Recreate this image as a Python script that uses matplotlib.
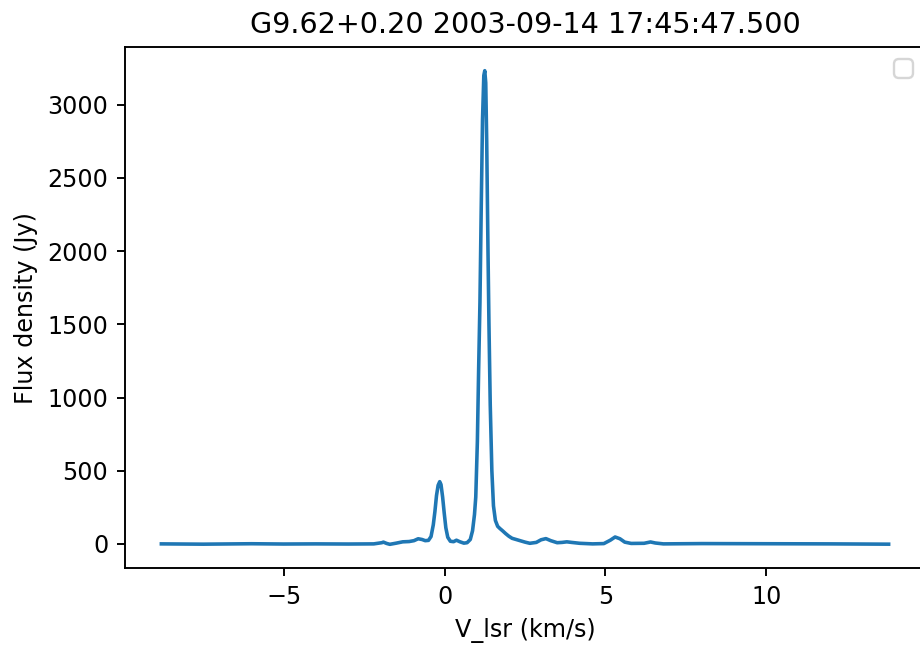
import matplotlib
matplotlib.use("Agg")
import matplotlib.pyplot as plt

title = "G9.62+0.20 2003-09-14 17:45:47.500"

# 速度 (km/s) とフラックス (Jy) - 図から読み取った値
velocity = [-8.8, -7.5, -6.0, -5.0, -4.0, -3.0, -2.2, -1.95, -1.9, -1.8, -1.7,
            -1.5, -1.3, -1.1, -0.95, -0.82, -0.7, -0.6, -0.5, -0.42, -0.35,
            -0.3, -0.25, -0.2, -0.15, -0.11, -0.06, -0.01, 0.04, 0.1, 0.18,
            0.28, 0.37, 0.47, 0.6, 0.7, 0.8, 0.87, 0.93, 0.97, 1.02, 1.06,
            1.10, 1.14, 1.18, 1.22, 1.25, 1.28, 1.31, 1.35, 1.38, 1.42, 1.47,
            1.52, 1.58, 1.65, 1.72, 1.8, 1.9, 2.0, 2.1, 2.3, 2.5, 2.65, 2.85,
            3.0, 3.15, 3.3, 3.5, 3.65, 3.8, 3.95, 4.2, 4.6, 4.95, 5.15, 5.3,
            5.45, 5.6, 5.8, 6.2, 6.4, 6.55, 6.8, 8.0, 10.0, 12.0, 13.8]
flux = [0, -2, 1, -1, 0, -1, 0, 8, 12, 3, -3,
        5, 14, 16, 22, 35, 30, 22, 24, 50, 130,
        220, 330, 400, 425, 405, 320, 210, 110, 45, 18,
        15, 25, 15, 5, 8, 30, 90, 200, 320, 700, 1200,
        1650, 2300, 2900, 3200, 3233, 3150, 2750, 2000, 1500, 950, 500,
        260, 160, 120, 105, 90, 70, 52, 38, 25, 12, 4, 10,
        28, 36, 22, 8, 10, 14, 10, 4, 0, 2, 25, 47,
        35, 12, 3, 4, 13, 6, 0, 2, 1, 0, -2]

DPI = 172
fig = plt.figure(figsize=(920 / DPI, 649 / DPI), dpi=DPI)
ax = fig.add_axes([125 / 920, 81 / 649, 800 / 920, 521 / 649])
ax.plot(velocity, flux)
ax.set_title(title)
ax.set_xlabel("V_lsr (km/s)")
ax.set_ylabel("Flux density (Jy)")
ax.legend()

fig.savefig("out.png", dpi=DPI)
